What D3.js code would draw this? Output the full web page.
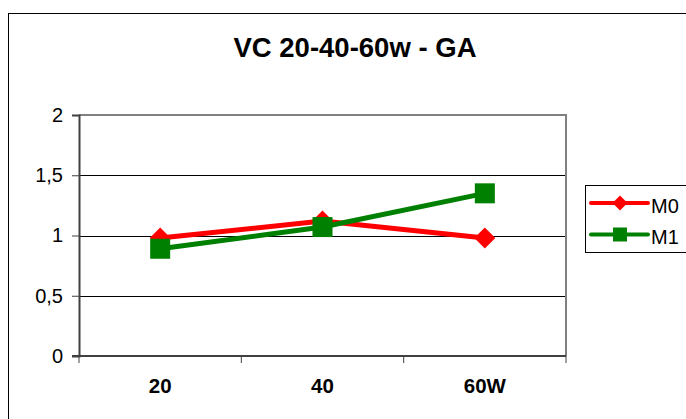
<!DOCTYPE html>
<html>
<head>
<meta charset="utf-8">
<script src="https://cdn.jsdelivr.net/npm/d3@7"></script>
<style>
  html, body { margin: 0; padding: 0; background: #fff; }
  svg { display: block; font-family: Arial, "Liberation Sans", sans-serif; }
</style>
</head>
<body>
<svg id="chart" width="686" height="419"></svg>
<script>
// Chart data
const title = "VC 20-40-60w - GA";
const categories = ["20", "40", "60W"];
const seriesNames = ["M0", "M1"];
const m0Values = [0.98, 1.12, 0.98];
const m1Values = [0.89, 1.07, 1.35];
const yTicks = [0, 0.5, 1, 1.5, 2];
const yTickLabels = ["0", "0,5", "1", "1,5", "2"];

const colors = { M0: "#ff0000", M1: "#008000" };
const series = [
  { name: seriesNames[0], values: m0Values, color: colors.M0, marker: "diamond" },
  { name: seriesNames[1], values: m1Values, color: colors.M1, marker: "square" }
];

const svg = d3.select("#chart");
const W = 686, H = 419;

// Chart frame
svg.append("rect").attr("x", 0).attr("y", 0).attr("width", W).attr("height", H).attr("fill", "#fff");
svg.append("rect")
  .attr("x", 8.5).attr("y", 13.5).attr("width", W + 20).attr("height", H + 20)
  .attr("fill", "none").attr("stroke", "#000").attr("stroke-width", 1);

// Title
svg.append("text")
  .attr("x", 355).attr("y", 57)
  .attr("text-anchor", "middle")
  .attr("font-weight", "bold")
  .attr("font-size", 27.5)
  .text(title);

// Plot area
const plot = { left: 79, right: 566, top: 115, bottom: 356 };

const x = d3.scaleBand().domain(categories).range([plot.left, plot.right]).padding(0);
const y = d3.scaleLinear().domain([0, 2]).range([plot.bottom, plot.top]);

// Gridlines
svg.append("g")
  .selectAll("line")
  .data(yTicks.filter(v => v > 0 && v < 2))
  .join("line")
  .attr("x1", plot.left).attr("x2", plot.right)
  .attr("y1", d => Math.round(y(d)) + 0.5).attr("y2", d => Math.round(y(d)) + 0.5)
  .attr("stroke", "#000").attr("stroke-width", 1);

// Plot border (top and right) in grey
svg.append("path")
  .attr("d", `M${plot.left},${plot.top} H${plot.right} V${plot.bottom}`)
  .attr("fill", "none").attr("stroke", "#808080").attr("stroke-width", 2);

// Y axis
const yAxis = d3.axisLeft(y)
  .tickValues(yTicks)
  .tickFormat((d, i) => yTickLabels[i])
  .tickSize(7)
  .tickPadding(9);
const gy = svg.append("g").attr("transform", `translate(${plot.left},0)`).call(yAxis);
gy.select(".domain").attr("stroke", "#404040").attr("stroke-width", 2);
gy.selectAll(".tick line").attr("stroke", "#404040");
gy.selectAll(".tick text").attr("font-size", 20).attr("font-family", "Arial, 'Liberation Sans', sans-serif").attr("fill", "#000");

// X axis: ticks sit at the category boundaries
const boundaries = categories.map(c => x(c)).concat([plot.right]);
const gx = svg.append("g");
gx.append("line")
  .attr("x1", plot.left - 7).attr("x2", plot.right)
  .attr("y1", plot.bottom).attr("y2", plot.bottom)
  .attr("stroke", "#404040").attr("stroke-width", 2);
gx.selectAll("line.tk")
  .data(boundaries)
  .join("line").attr("class", "tk")
  .attr("x1", d => d).attr("x2", d => d)
  .attr("y1", plot.bottom).attr("y2", plot.bottom + 7)
  .attr("stroke", "#404040").attr("stroke-width", 1);
gx.selectAll("text")
  .data(categories)
  .join("text")
  .attr("x", d => x(d) + x.bandwidth() / 2)
  .attr("y", 393)
  .attr("text-anchor", "middle")
  .attr("font-weight", "bold")
  .attr("font-size", 20.5)
  .text(d => d);

// Series lines and markers
const line = d3.line()
  .x((d, i) => x(categories[i]) + x.bandwidth() / 2)
  .y(d => y(d));

function drawMarker(g, type, cx, cy, size, color) {
  if (type === "diamond") {
    g.append("path")
      .attr("d", `M${cx},${cy - size} L${cx + size},${cy} L${cx},${cy + size} L${cx - size},${cy} Z`)
      .attr("fill", color);
  } else {
    g.append("rect")
      .attr("x", cx - size).attr("y", cy - size)
      .attr("width", size * 2).attr("height", size * 2)
      .attr("fill", color);
  }
}

series.forEach(s => {
  const g = svg.append("g");
  g.append("path")
    .datum(s.values)
    .attr("d", line)
    .attr("fill", "none")
    .attr("stroke", s.color)
    .attr("stroke-width", 5)
    .attr("stroke-linejoin", "round");
  s.values.forEach((v, i) => {
    drawMarker(g, s.marker, x(categories[i]) + x.bandwidth() / 2, y(v),
      s.marker === "diamond" ? 10.5 : 10, s.color);
  });
});

// Legend
const lg = svg.append("g");
lg.append("rect")
  .attr("x", 585.5).attr("y", 185.5).attr("width", 120).attr("height", 67)
  .attr("fill", "#fff").attr("stroke", "#000").attr("stroke-width", 1);
series.forEach((s, i) => {
  const ly = 203 + i * 31.5;
  lg.append("line")
    .attr("x1", 591).attr("x2", 648).attr("y1", ly).attr("y2", ly)
    .attr("stroke", s.color).attr("stroke-width", 4).attr("stroke-linecap", "round");
  drawMarker(lg, s.marker, 620, ly, s.marker === "diamond" ? 7.5 : 7, s.color);
  lg.append("text")
    .attr("x", 651).attr("y", ly + 9.5)
    .attr("font-size", 20)
    .text(s.name);
});
</script>
</body>
</html>
